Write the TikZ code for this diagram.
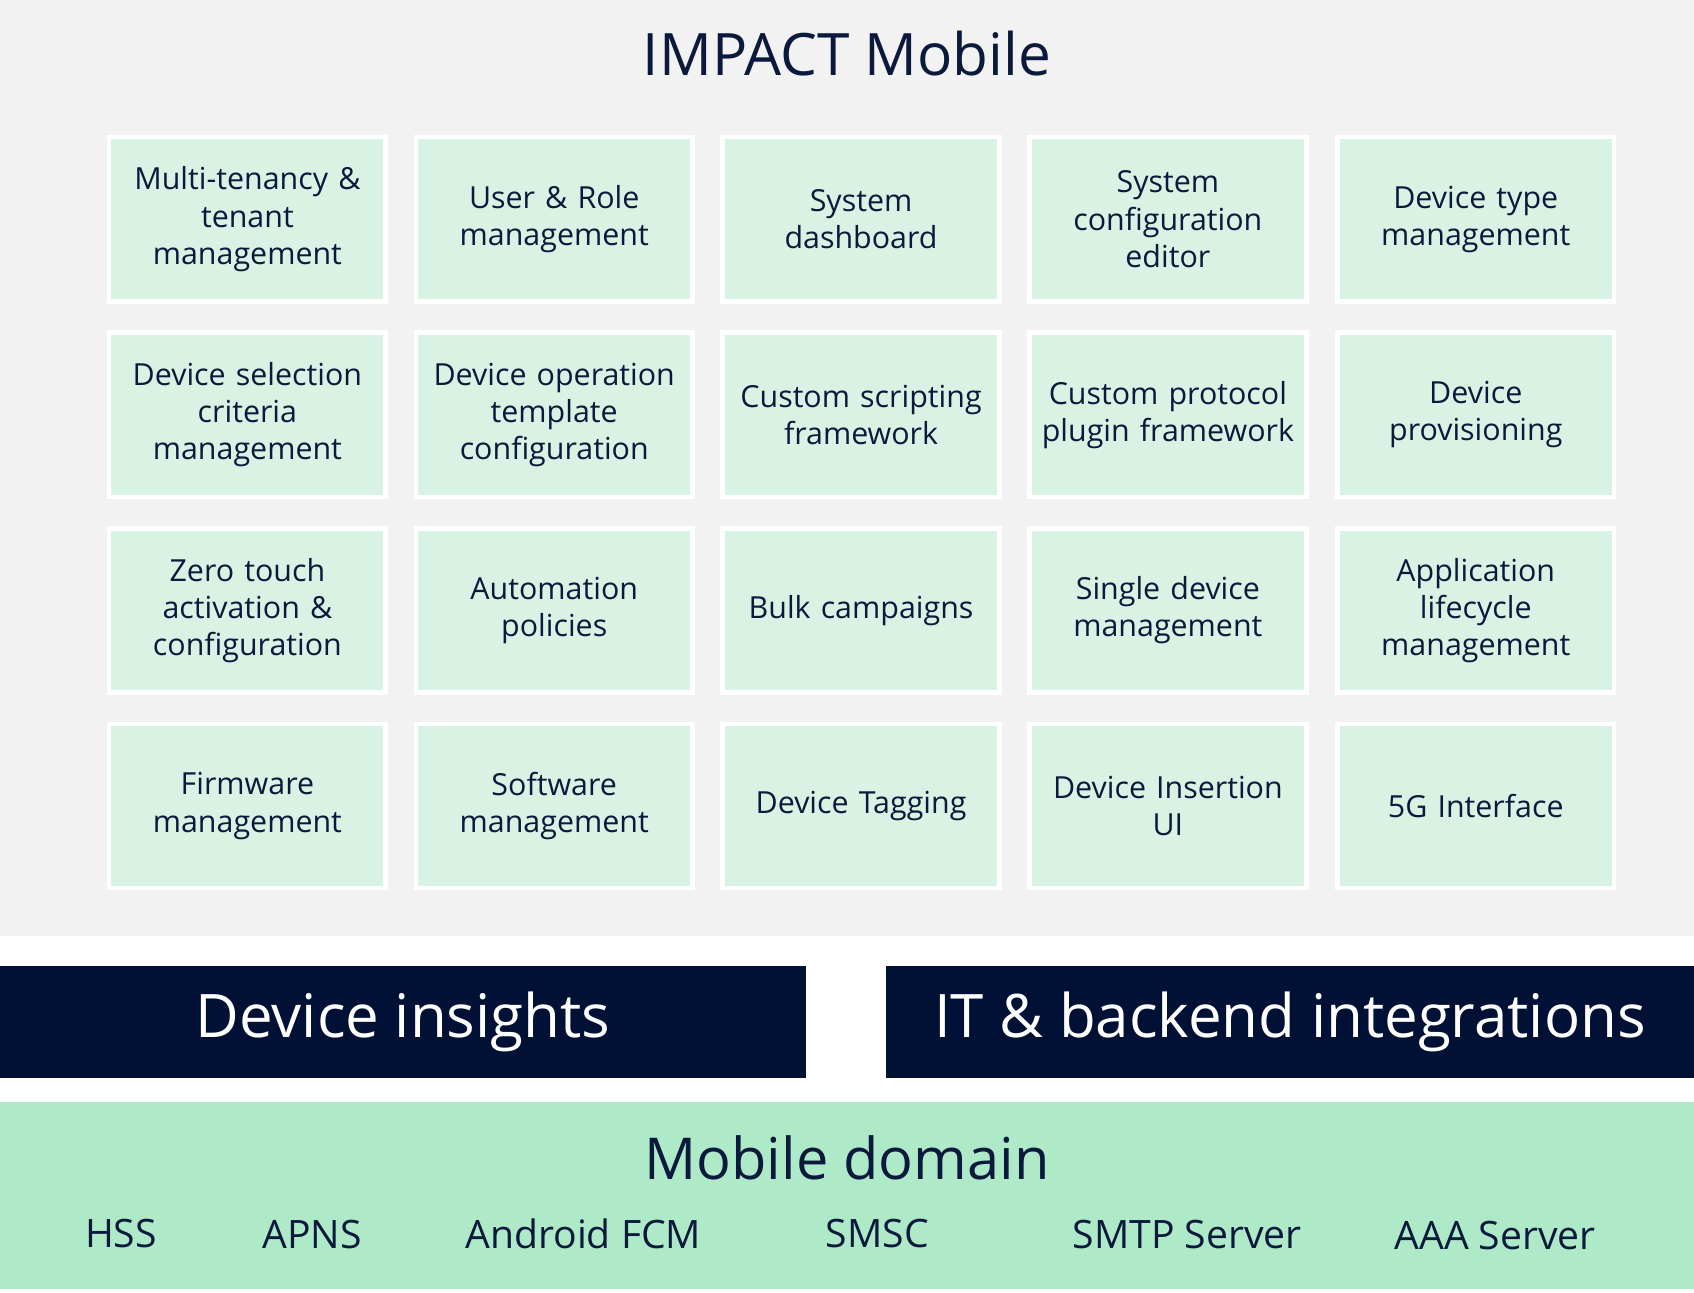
\documentclass[tikz,border=0pt]{standalone}
\usepackage{fontspec}
\setmainfont{Open Sans}
\begin{document}
\begin{tikzpicture}[x=0.01cm,y=-0.01cm,
  box/.style={draw=white,line width=1.2pt,fill=cell,minimum width=2.56cm,minimum height=1.52cm,align=center,text=ink,font=\fontsize{8}{9.8}\selectfont,inner sep=1pt,text width=2.4cm},
  item/.style={text=ink,font=\fontsize{10.3}{12}\selectfont}]
\definecolor{cell}{HTML}{D8F3E3}
\definecolor{navy}{HTML}{001135}
\definecolor{ink}{HTML}{0B1A3C}
\definecolor{mint}{HTML}{AEEAC8}
\useasboundingbox (0,0) rectangle (1568,1196);
\fill[white] (0,0) rectangle (1568,1196);
\fill[black!5] (0,0) rectangle (1568,866);
\node[text=ink,font=\fontsize{15.4}{18}\selectfont] (title) at (784,50) {IMPACT Mobile};
\def\cols{{229,513,797,1081,1366}}
\def\rows{{203,384,565,746}}
\foreach \r/\c/\t [count=\i] in {
0/0/{Multi-tenancy \&\\tenant\\management},0/1/{User \& Role\\management},0/2/{System\\dashboard},0/3/{System\\configuration\\editor},0/4/{Device type\\management},
1/0/{Device selection\\criteria\\management},1/1/{Device operation\\template\\configuration},1/2/{Custom scripting\\framework},1/3/{Custom protocol\\plugin framework},1/4/{Device\\provisioning},
2/0/{Zero touch\\activation \&\\configuration},2/1/{Automation\\policies},2/2/{Bulk campaigns},2/3/{Single device\\management},2/4/{Application\\lifecycle\\management},
3/0/{Firmware\\management},3/1/{Software\\management},3/2/{Device Tagging},3/3/{Device Insertion\\UI},3/4/{5G Interface}}
  \node[box] (b\i) at ({\cols[\c]},{\rows[\r]}) {\t};
\fill[navy] (0,894) rectangle (746,998);
\node[text=white,font=\fontsize{15.8}{19}\selectfont] (di) at (373,946) {Device insights};
\fill[navy] (820,894) rectangle (1568,998);
\node[text=white,font=\fontsize{15.8}{19}\selectfont] (it) at (1194,946) {IT \& backend integrations};
\fill[mint] (0,1020) rectangle (1568,1193);
\node[text=ink,font=\fontsize{15.2}{18}\selectfont] (md) at (784,1072) {Mobile domain};
\node[item] (h1) at (112,1142) {HSS};
\node[item] (h2) at (289,1143) {APNS};
\node[item] (h3) at (540,1142) {Android FCM};
\node[item] (h4) at (812,1142) {SMSC};
\node[item] (h5) at (1099,1143) {SMTP Server};
\node[item] (h6) at (1384,1144) {AAA Server};
\end{tikzpicture}
\end{document}
